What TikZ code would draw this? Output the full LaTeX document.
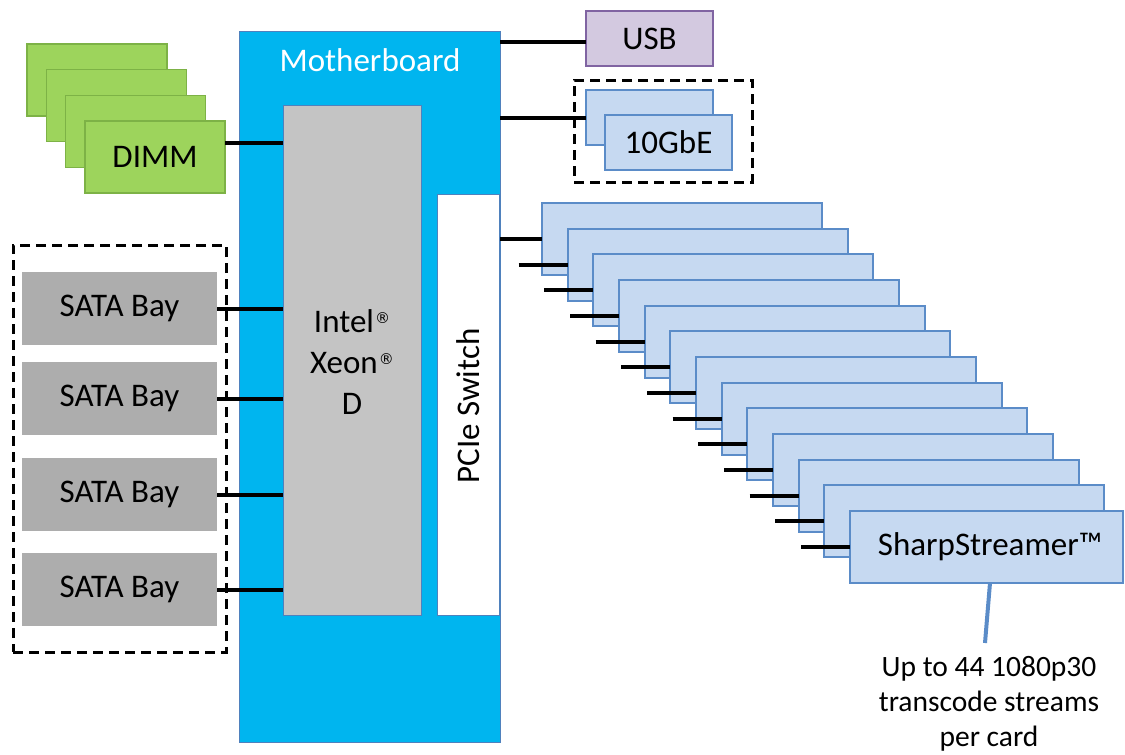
\documentclass[tikz,border=0pt]{standalone}
\usepackage{fontspec}
\setmainfont{Carlito}
\newfontfamily\regfont{DejaVu Sans}
\definecolor{mbblue}{HTML}{00B5EF}
\definecolor{mbedge}{HTML}{4F81BD}
\definecolor{chipgray}{HTML}{C4C4C4}
\definecolor{cardfill}{HTML}{C6D9F1}
\definecolor{cardedge}{HTML}{5B8CC8}
\definecolor{dimmfill}{HTML}{9DD45C}
\definecolor{dimmedge}{HTML}{7DB246}
\definecolor{usbfill}{HTML}{D3C9E0}
\definecolor{usbedge}{HTML}{8064A2}
\definecolor{satafill}{HTML}{ADADAD}
\newcommand\bigfs{\fontsize{33}{40}\selectfont}
\newcommand\satafs{\fontsize{33}{40}\selectfont}
\newcommand\notefs{\fontsize{29.5}{35}\selectfont}
\newcommand\regmark{\hspace{1pt}\raisebox{9pt}{\regfont\fontsize{15}{15}\selectfont ®}}
\begin{document}
\begin{tikzpicture}[x=1pt,y=-1pt,
  box/.style={anchor=north west, inner sep=0pt, outer sep=0pt, line width=1pt, font=\bigfs},
  dimmbox/.style={box, fill=dimmfill, draw=dimmedge, line width=1.5pt, minimum width=140pt, minimum height=72pt},
  satabox/.style={box, fill=satafill, minimum width=195pt, minimum height=73pt, font=\satafs},
  cardbox/.style={box, fill=cardfill, draw=cardedge, line width=1.8pt, minimum width=280pt, minimum height=72pt},
  nicbox/.style={box, fill=cardfill, draw=cardedge, line width=1.8pt, minimum width=127pt, minimum height=55pt},
  dashbox/.style={box, draw=black, line width=3pt, dash pattern=on 10pt off 6pt},
  conn/.style={draw=black, line width=4pt},
  callout/.style={draw=cardedge, line width=4pt}]
\useasboundingbox (0,0) rectangle (1125,755);

% motherboard
\node[box, fill=mbblue, draw=mbedge, minimum width=261pt, minimum height=711pt] (mb) at (239,31) {};
\node[font=\bigfs, text=white] (mbl) at (370,60) {Motherboard};
\node[box, fill=chipgray, draw=mbedge, minimum width=138pt, minimum height=510pt] (chip) at (283,105) {};
\node[align=center, font=\bigfs, inner sep=0pt] (chipl) at (352,362) {Intel\regmark\\[1pt]Xeon\regmark\\[1pt]D};
\node[box, fill=white, draw=mbedge, minimum width=62pt, minimum height=421pt] (pcie) at (437,194) {};
\node[font=\bigfs, rotate=90] (pciel) at (468,406) {PCIe Switch};

% DIMMs
\node[dimmbox] (d1) at (27,44) {};
\node[dimmbox] (d2) at (46.3,69.7) {};
\node[dimmbox] (d3) at (65.7,95.3) {};
\node[dimmbox] (d4) at (85,121) {DIMM};
\draw[conn] ([yshift=14.5pt]d4.east) -- ([yshift=14.5pt]d4.east -| chip.west);

% SATA
\node[dashbox, minimum width=213pt, minimum height=407pt] (sataframe) at (13,245) {};
\node[satabox] (s1) at (22,272) {SATA Bay};
\node[satabox] (s2) at (22,362) {SATA Bay};
\node[satabox] (s3) at (22,458) {SATA Bay};
\node[satabox] (s4) at (22,553) {SATA Bay};
\foreach \s in {s1,s2,s3,s4}
  \draw[conn] (\s.east) -- (\s.east -| chip.west);

% USB
\node[box, fill=usbfill, draw=usbedge, line width=1.8pt, minimum width=127pt, minimum height=55pt] (usb) at (586,11) {USB};
\draw[conn] ([yshift=-3pt]usb.west -| mb.east) -- ([yshift=-3pt]usb.west);

% 10GbE
\node[dashbox, minimum width=178pt, minimum height=102pt] (gbeframe) at (574,80) {};
\node[nicbox] (g1) at (586,90) {};
\node[nicbox] (g2) at (605,115) {10GbE};
\draw[conn] (g1.west -| mb.east) -- (g1.west);

% cards
\foreach \i in {0,...,11}
  \node[cardbox] (c\i) at ({542+25.667*\i},{203+25.667*\i}) {};
\node[cardbox, minimum width=273pt] (c12) at (850,511) {\hspace*{7pt}SharpStreamer™};
\draw[conn] (c0.west -| mb.east) -- (c0.west);
\foreach \i in {1,...,12}{
  \path (c\i.west) ++(-49,0) coordinate (st\i);
  \draw[conn] (st\i) -- (c\i.west);
}

% callout
\coordinate (cl) at (985,643);
\draw[callout] (990,583) -- (cl);
\node[anchor=north, align=center, font=\notefs, inner sep=0pt] (note) at (989,656) {Up to 44 1080p30\\transcode streams\\per card};
\end{tikzpicture}
\end{document}
